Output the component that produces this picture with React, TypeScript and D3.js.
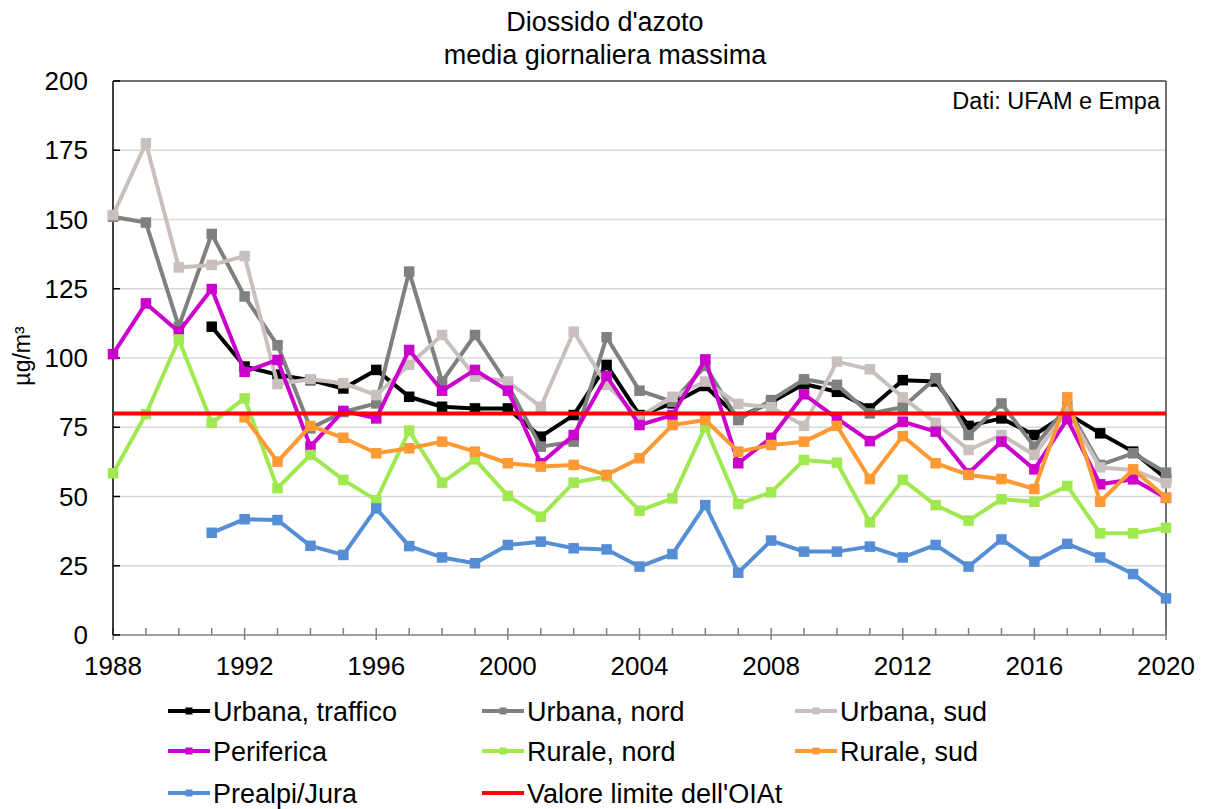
import React from "react";
import * as d3 from "d3";

const years: number[] = d3.range(1988, 2021);
const xTicks: number[] = [1988, 1992, 1996, 2000, 2004, 2008, 2012, 2016, 2020];
const yTicks: number[] = [0, 25, 50, 75, 100, 125, 150, 175, 200];
const limitValue = 80;

type V = number | null;
const urbanaTraffico: V[] = [null, null, null, 111.3, 96.9, 94, 92, 89, 95.7, 86, 82.4, 81.8, 81.8, 71.6, 79.4, 97.5, 79.4, 83.6, 89.9, 78.5, 84, 90.6, 87.8, 81.8, 92, 91.5, 75.5, 78.2, 72.2, 80, 72.8, 66.2, 56.5];
const urbanaNord: V[] = [151, 148.9, 111.3, 144.8, 122.2, 104.6, 74.6, 80.5, 83.6, 131.2, 91.5, 108.3, 90.3, 68, 69.8, 107.5, 88.2, 84.2, 97.1, 77.6, 84.8, 92.3, 90.3, 80, 82.2, 92.7, 72.2, 83.6, 68, 82.4, 61.4, 65.6, 58.6];
const urbanaSud: V[] = [151.6, 177.5, 132.7, 133.6, 136.8, 90.6, 92.3, 90.9, 86.6, 97.5, 108.3, 93.3, 91.5, 82.4, 109.5, 90.3, 78.8, 86, 91.5, 83.4, 82.2, 75.5, 98.7, 95.9, 85.8, 76.6, 66.8, 72.2, 65, 81, 60.5, 59.6, 54.8];
const periferica: V[] = [101.4, 119.7, 109.5, 124.9, 95, 99.3, 68, 80.9, 78.2, 102.9, 88.2, 95.7, 88.2, 62, 72.2, 93.5, 75.8, 79.4, 99.5, 62, 71.2, 86.9, 78.2, 70, 77, 73.4, 58.4, 69.8, 59.8, 77.9, 54.4, 56.2, 49.5];
const ruraleNord: V[] = [58.4, 79.7, 106.7, 76.6, 85.4, 53, 65, 56, 48.7, 73.8, 55, 63.4, 50.2, 42.7, 55, 57.2, 44.9, 49.3, 75.2, 47.3, 51.5, 63.2, 62.2, 40.7, 56, 46.9, 41.3, 49, 48.1, 53.8, 36.7, 36.7, 38.7];
const ruraleSud: V[] = [null, null, null, null, 78.6, 62.6, 75.5, 71.2, 65.6, 67.4, 69.8, 66.2, 62, 60.8, 61.4, 57.8, 63.8, 75.8, 77.6, 66.2, 68.6, 69.8, 75.5, 56.3, 71.8, 62, 57.8, 56.3, 52.7, 85.8, 48.1, 59.8, 49.6];
const prealpiJura: V[] = [null, null, null, 36.9, 41.8, 41.5, 32.2, 28.9, 45.7, 32.1, 28, 25.9, 32.5, 33.7, 31.3, 30.9, 24.7, 29.2, 46.9, 22.5, 34.1, 30.1, 30.1, 31.9, 28, 32.5, 24.7, 34.5, 26.5, 32.9, 28, 22, 13.2];

const seriesNames: string[] = ["Urbana, traffico", "Urbana, nord", "Urbana, sud", "Periferica", "Rurale, nord", "Rurale, sud", "Prealpi/Jura"];
const seriesValues: V[][] = [urbanaTraffico, urbanaNord, urbanaSud, periferica, ruraleNord, ruraleSud, prealpiJura];
const seriesColors: string[] = ["#000000", "#808080", "#C9C0BE", "#CC00CC", "#A0E84F", "#FF9933", "#558ED5"];
const limitName = "Valore limite dell'OIAt";
const limitColor = "#FF0000";

const FONT = "'Liberation Sans', Arial, sans-serif";

export default function App() {
  const W = 1210, H = 809;
  const left = 113, right = 1166, top = 81, bottom = 635;
  const x = d3.scaleLinear().domain([1988, 2020]).range([left, right]);
  const y = d3.scaleLinear().domain([0, 200]).range([bottom, top]);
  const line = d3
    .line<V>()
    .defined((d) => d !== null)
    .x((_, i) => x(years[i]))
    .y((d) => y(d as number));
  const ms = 10.5;

  const legendCols = [168, 482, 795];
  const legendRows = [711, 751, 793];
  const legendItems = [
    ...seriesNames.map((n, i) => ({ name: n, color: seriesColors[i], marker: true })),
    { name: limitName, color: limitColor, marker: false },
  ];

  return (
    <svg width={W} height={H} style={{ position: "absolute", left: 0, top: 0, background: "#fff" }} fontFamily={FONT}>
      <rect x={0} y={0} width={W} height={H} fill="#fff" />
      {/* title */}
      <text x={605} y={31} textAnchor="middle" fontSize={27}>Diossido d'azoto</text>
      <text x={605} y={64} textAnchor="middle" fontSize={27}>media giornaliera massima</text>

      {/* gridlines */}
      {yTicks.filter((t) => t > 0 && t < 200).map((t) => (
        <line key={"g" + t} x1={left} x2={right} y1={y(t)} y2={y(t)} stroke="#D9D9D9" strokeWidth={1.5} />
      ))}

      {/* frame */}
      <line x1={left} x2={right} y1={top} y2={top} stroke="#404040" strokeWidth={1.5} />
      <line x1={right} x2={right} y1={top} y2={bottom} stroke="#404040" strokeWidth={1.5} />
      <line x1={left} x2={right} y1={bottom} y2={bottom} stroke="#808080" strokeWidth={1.5} />
      {years.map((yr) => {
        const major = xTicks.includes(yr);
        return (
          <line key={"xt" + yr} x1={x(yr)} x2={x(yr)} y1={bottom - 7} y2={major ? bottom + 5 : bottom} stroke="#808080" strokeWidth={1.5} />
        );
      })}
      <line x1={left} x2={left} y1={top} y2={bottom} stroke="#000" strokeWidth={1.5} />
      {yTicks.map((t) => (
        <line key={"yt" + t} x1={left} x2={left + 7} y1={y(t)} y2={y(t)} stroke="#000" strokeWidth={1.5} />
      ))}

      {/* tick labels */}
      {yTicks.map((t) => (
        <text key={"yl" + t} x={88} y={y(t) + 9} textAnchor="end" fontSize={26}>{t}</text>
      ))}
      {xTicks.map((t) => (
        <text key={"xl" + t} x={x(t)} y={675} textAnchor="middle" fontSize={26}>{t}</text>
      ))}

      {/* y axis title */}
      <text transform={`translate(30, ${356}) rotate(-90)`} textAnchor="middle" fontSize={23}>µg/m³</text>

      {/* source */}
      <text x={1160} y={109} textAnchor="end" fontSize={23.5}>Dati: UFAM e Empa</text>

      {/* series */}
      {seriesValues.map((vals, si) => (
        <g key={"s" + si}>
          <path d={line(vals) || ""} fill="none" stroke={seriesColors[si]} strokeWidth={4} strokeLinejoin="round" />
          {vals.map((v, i) =>
            v === null ? null : (
              <rect key={i} x={x(years[i]) - ms / 2} y={y(v) - ms / 2} width={ms} height={ms} fill={seriesColors[si]} />
            )
          )}
        </g>
      ))}

      {/* limit */}
      <line x1={x(1988)} x2={x(2020)} y1={y(limitValue)} y2={y(limitValue)} stroke={limitColor} strokeWidth={4} />

      {/* legend */}
      {legendItems.map((it, i) => {
        const cx = legendCols[i % 3];
        const cy = legendRows[Math.floor(i / 3)];
        return (
          <g key={"l" + i}>
            <line x1={cx} x2={cx + 42} y1={cy} y2={cy} stroke={it.color} strokeWidth={4} />
            {it.marker && <rect x={cx + 21 - 3.5} y={cy - 3.5} width={7} height={7} fill={it.color} />}
            <text x={cx + 45} y={cy + 9.5} fontSize={27}>{it.name}</text>
          </g>
        );
      })}
    </svg>
  );
}
